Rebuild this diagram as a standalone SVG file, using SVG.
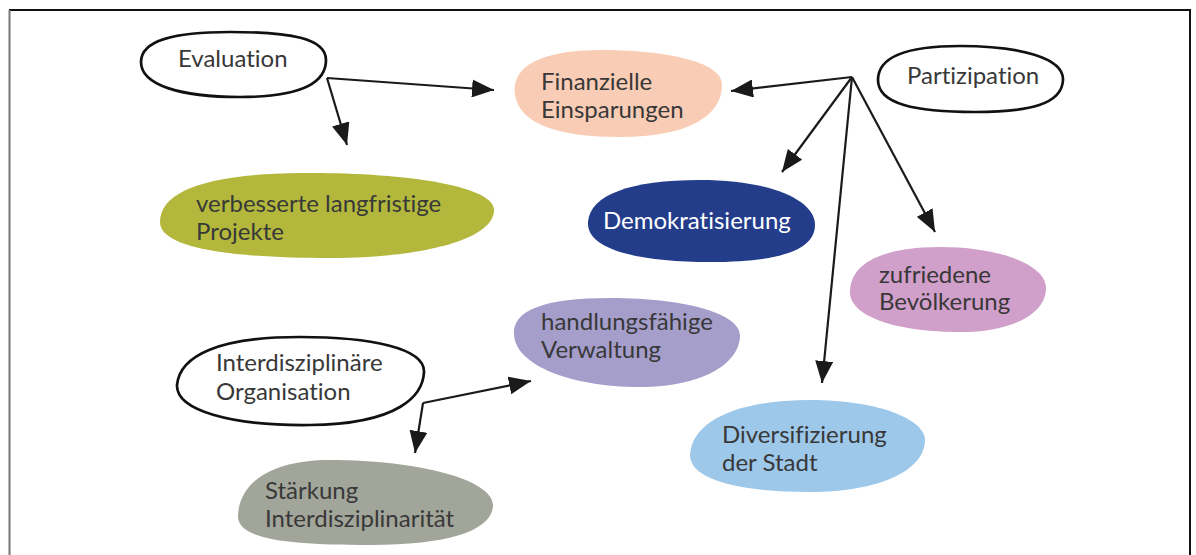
<svg xmlns="http://www.w3.org/2000/svg" width="1196" height="555" viewBox="0 0 1196 555">
<defs>
<style>
.t{font-family:Lato,"Open Sans",sans-serif;font-size:24px;fill:#383838;font-variant-ligatures:none;font-feature-settings:"liga" 0,"dlig" 0}
.w{fill:#ffffff}
.ol{fill:#ffffff;stroke:#111;stroke-width:2.7}
.c{fill:none;stroke:#1a1a1a;stroke-width:2.2;marker-end:url(#ah)}
</style>
<marker id="ah" markerUnits="userSpaceOnUse" markerWidth="22" markerHeight="18" refX="22" refY="9" orient="auto" viewBox="0 0 22 18">
<path d="M0,0 L22,9 L0,18 Z" fill="#1a1a1a"/>
</marker>
</defs>
<rect width="1196" height="555" fill="#ffffff"/>
<g id="frame">
<line x1="9" y1="10" x2="1191" y2="10" stroke="#111" stroke-width="2"/>
<line x1="9.5" y1="10" x2="9.5" y2="555" stroke="#777" stroke-width="2"/>
<line x1="1190" y1="10" x2="1190" y2="555" stroke="#111" stroke-width="2"/>
</g>
<g id="connectors">
<path class="c" d="M327,78 L494,90"/>
<path class="c" d="M327,78 L347,145"/>
<path class="c" d="M852,77 L731,91"/>
<path class="c" d="M852,77 L782,172"/>
<path class="c" d="M852,77 L822,383"/>
<path class="c" d="M852,77 L935,232"/>
<path class="c" d="M423,403 L531,381"/>
<path class="c" d="M423,403 L415,453"/>
</g>
<g id="evaluation">
<path class="ol" d="M141,62 C141,40 175,32 230,32 C290,32 326,38 326,60 C326,84 300,97 240,97 C180,97 141,85 141,62 Z"/>
<text class="t" x="178" y="67">Evaluation</text>
</g>
<g id="finanzielle">
<path fill="#F9CDB5" d="M515,95 C510,65 545,50 600,50 C660,50 722,60 722,85 C722,115 690,137 620,137 C560,137 520,125 515,95 Z"/>
<text class="t" x="541" y="90">Finanzielle</text>
<text class="t" x="541" y="118">Einsparungen</text>
</g>
<g id="partizipation">
<path class="ol" d="M878,80 C878,55 910,46 960,46 C1020,46 1064,58 1063,80 C1062,104 1030,112 975,112 C915,112 878,104 878,80 Z"/>
<text class="t" x="907" y="84">Partizipation</text>
</g>
<g id="projekte">
<path fill="#B3B83C" d="M160,222 C160,190 210,174 300,173 C400,172 494,185 494,210 C494,240 420,258 330,258 C240,258 160,250 160,222 Z"/>
<text class="t" x="196" y="212">verbesserte langfristige</text>
<text class="t" x="196" y="240">Projekte</text>
</g>
<g id="demokratisierung">
<path fill="#233D8B" d="M588,222 C590,195 630,180 700,180 C770,180 815,200 815,225 C815,250 780,262 710,262 C640,262 586,250 588,222 Z"/>
<text class="t w" x="603" y="229">Demokratisierung</text>
</g>
<g id="zufriedene">
<path fill="#D09FCA" d="M850,292 C850,262 885,247 940,247 C1000,247 1046,265 1046,288 C1046,315 1010,332 960,332 C900,332 850,318 850,292 Z"/>
<text class="t" x="879" y="283">zufriedene</text>
<text class="t" x="879" y="310">Bevölkerung</text>
</g>
<g id="verwaltung">
<path fill="#A59ECB" d="M514,335 C512,310 545,298 610,298 C690,298 740,315 740,335 C740,365 700,387 640,387 C570,387 516,365 514,335 Z"/>
<text class="t" x="541" y="330">handlungsfähige</text>
<text class="t" x="541" y="358">Verwaltung</text>
</g>
<g id="interdisziplinaere">
<path class="ol" d="M177,385 C180,355 220,337 300,337 C370,337 425,348 424,372 C423,395 400,424 310,425 C230,426 176,410 177,385 Z"/>
<text class="t" x="216" y="371">Interdisziplinäre</text>
<text class="t" x="216" y="400">Organisation</text>
</g>
<g id="diversifizierung">
<path fill="#9DC8EA" d="M690,455 C692,420 740,400 810,400 C880,400 925,420 925,440 C925,470 880,492 810,492 C740,492 690,480 690,455 Z"/>
<text class="t" x="722" y="443">Diversifizierung</text>
<text class="t" x="722" y="471">der Stadt</text>
</g>
<g id="staerkung">
<path fill="#A2A59A" d="M238,515 C240,480 275,460 330,460 C420,460 493,480 493,505 C493,530 450,545 370,545 C290,545 236,540 238,515 Z"/>
<text class="t" x="265" y="499">Stärkung</text>
<text class="t" x="265" y="527">Interdisziplinarität</text>
</g>
</svg>
